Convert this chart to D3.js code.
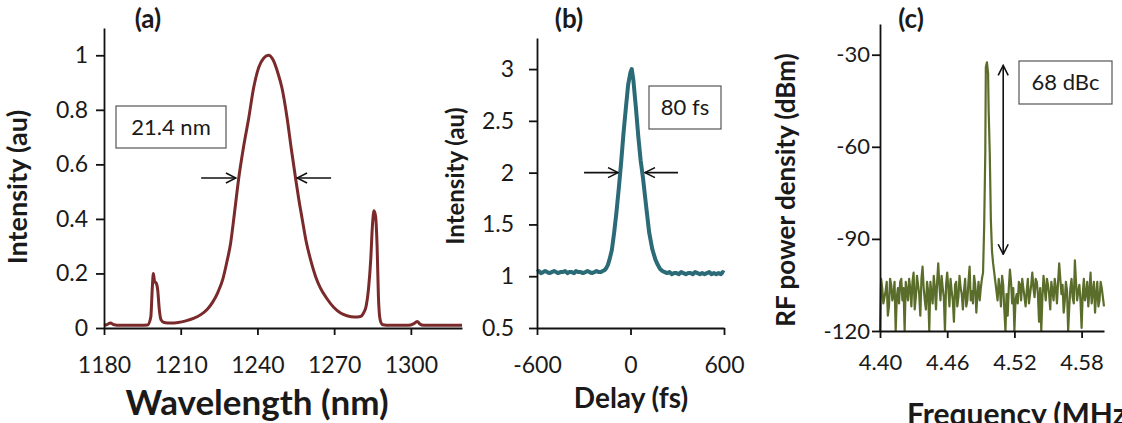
<!DOCTYPE html>
<html>
<head>
<meta charset="utf-8">
<script src="https://cdn.jsdelivr.net/npm/d3@7"></script>
<style>
  body { margin: 0; background: #fff; }
  text { font-family: Lato, "Open Sans", sans-serif; fill: #1a1a1a; }
</style>
</head>
<body>
<div id="chart"></div>
<script>
// ---- data ----
// (a) optical spectrum
var wavelength = [1180, 1181, 1182.5, 1184, 1186, 1190, 1194, 1197, 1198.3, 1198.9, 1199.3, 1199.8, 1200.4, 1201.0, 1201.6, 1202.3, 1203.5, 1206, 1209, 1212, 1215, 1218, 1220.5, 1222.5, 1224.5, 1226.5, 1228, 1229.5, 1231, 1232.7, 1234.5, 1236.6, 1238.5, 1240.5, 1242.5, 1244.4, 1246, 1248, 1249.6, 1251.6, 1253.2, 1254.9, 1256.2, 1257.5, 1259, 1260.8, 1262.7, 1264.7, 1267, 1269.9, 1272.5, 1275, 1278, 1280.3, 1281.5, 1282.5, 1283.5, 1284.3, 1285, 1285.6, 1286.2, 1286.8, 1287.3, 1288, 1289, 1292, 1296, 1299, 1301, 1302.5, 1303.5, 1305, 1310, 1315, 1320]
var spectrum = [0.01, 0.012, 0.018, 0.012, 0.01, 0.01, 0.01, 0.011, 0.04, 0.15, 0.2, 0.17, 0.165, 0.14, 0.07, 0.03, 0.02, 0.018, 0.02, 0.026, 0.035, 0.05, 0.07, 0.095, 0.13, 0.18, 0.24, 0.31, 0.42, 0.55, 0.66, 0.77, 0.88, 0.955, 0.99, 1.0, 0.985, 0.935, 0.88, 0.77, 0.66, 0.55, 0.47, 0.4, 0.32, 0.25, 0.19, 0.145, 0.11, 0.075, 0.055, 0.045, 0.04, 0.042, 0.055, 0.08, 0.15, 0.25, 0.38, 0.43, 0.41, 0.3, 0.12, 0.03, 0.012, 0.01, 0.01, 0.01, 0.015, 0.024, 0.015, 0.01, 0.01, 0.01, 0.01]

// (b) autocorrelation
var delay = [-600, -588, -575, -560, -548, -535, -520, -505, -490, -478, -465, -450, -437, -420, -405, -392, -378, -362, -350, -335, -320, -305, -290, -276, -262, -248, -232, -218, -204, -190, -178, -165, -155, -145, -135, -120, -105, -90, -75, -60, -45, -30, -15, 0, 8, 18, 35, 50, 65, 80, 100, 120, 140, 160, 175, 190, 205, 220, 235, 250, 265, 280, 295, 310, 325, 340, 355, 370, 385, 400, 415, 430, 445, 460, 475, 490, 505, 520, 535, 550, 565, 580, 592, 600]
var autocorr = [1.04, 1.05, 1.03, 1.04, 1.05, 1.04, 1.03, 1.04, 1.05, 1.04, 1.03, 1.04, 1.04, 1.05, 1.03, 1.04, 1.04, 1.03, 1.05, 1.04, 1.04, 1.03, 1.04, 1.05, 1.04, 1.03, 1.04, 1.05, 1.04, 1.04, 1.05, 1.06, 1.08, 1.11, 1.16, 1.25, 1.42, 1.62, 1.85, 2.1, 2.38, 2.62, 2.85, 2.97, 3.0, 2.9, 2.62, 2.35, 2.12, 1.95, 1.68, 1.42, 1.26, 1.16, 1.11, 1.07, 1.05, 1.04, 1.03, 1.04, 1.02, 1.03, 1.03, 1.02, 1.04, 1.03, 1.02, 1.03, 1.03, 1.02, 1.04, 1.03, 1.02, 1.03, 1.02, 1.03, 1.04, 1.02, 1.03, 1.02, 1.03, 1.02, 1.04, 1.03]

// (c) RF spectrum
var frequency = [
  4.400, 4.401, 4.402, 4.403, 4.404, 4.405, 4.406, 4.407, 4.408, 4.409,
  4.410, 4.411, 4.412, 4.413, 4.414, 4.415, 4.416, 4.417, 4.418, 4.419,
  4.420, 4.421, 4.422, 4.423, 4.424, 4.425, 4.426, 4.427, 4.428, 4.429,
  4.430, 4.431, 4.432, 4.433, 4.434, 4.435, 4.436, 4.437, 4.438, 4.439,
  4.440, 4.441, 4.442, 4.443, 4.444, 4.445, 4.446, 4.447, 4.448, 4.449,
  4.450, 4.451, 4.452, 4.453, 4.454, 4.455, 4.456, 4.457, 4.458, 4.459,
  4.460, 4.461, 4.462, 4.463, 4.464, 4.465, 4.466, 4.467, 4.468, 4.469,
  4.470, 4.471, 4.472, 4.473, 4.474, 4.475, 4.476, 4.477, 4.478, 4.479,
  4.480, 4.481, 4.482, 4.483, 4.484, 4.485, 4.486, 4.487, 4.488, 4.489,
  4.490, 4.491, 4.492, 4.493, 4.494, 4.4945, 4.4955, 4.4965, 4.497, 4.498, 4.499,
  4.500, 4.501, 4.502, 4.503, 4.504, 4.505, 4.506, 4.507, 4.508, 4.509,
  4.510, 4.511, 4.512, 4.513, 4.514, 4.515, 4.516, 4.517, 4.518, 4.519,
  4.520, 4.521, 4.522, 4.523, 4.524, 4.525, 4.526, 4.527, 4.528, 4.529,
  4.530, 4.531, 4.532, 4.533, 4.534, 4.535, 4.536, 4.537, 4.538, 4.539,
  4.540, 4.541, 4.542, 4.543, 4.544, 4.545, 4.546, 4.547, 4.548, 4.549,
  4.550, 4.551, 4.552, 4.553, 4.554, 4.555, 4.556, 4.557, 4.558, 4.559,
  4.560, 4.561, 4.562, 4.563, 4.564, 4.565, 4.566, 4.567, 4.568, 4.569,
  4.570, 4.571, 4.572, 4.573, 4.574, 4.575, 4.576, 4.577, 4.578, 4.579,
  4.580, 4.581, 4.582, 4.583, 4.584, 4.585, 4.586, 4.587, 4.588, 4.589,
  4.590, 4.591, 4.592, 4.593, 4.594, 4.595, 4.596, 4.597, 4.598, 4.599,
  4.600]
var rfPower = [
  -120, -103, -106, -111, -109, -107, -104, -115, -112, -103,
  -105, -110, -108, -104, -120, -109, -106, -111, -104, -103,
  -110, -106, -120, -104, -107, -110, -103, -106, -112, -104,
  -101, -113, -109, -102, -105, -108, -115, -103, -99, -106,
  -110, -113, -104, -107, -120, -104, -108, -111, -102, -106,
  -113, -104, -98, -105, -110, -102, -106, -109, -120, -105,
  -101, -106, -112, -103, -107, -110, -117, -105, -104, -112,
  -109, -102, -106, -108, -113, -107, -103, -112, -110, -104,
  -99, -110, -107, -111, -102, -105, -114, -108, -104, -110,
  -106, -103, -101, -86, -62, -34, -32.5, -36, -48, -62, -84,
  -94, -98, -101, -104, -107, -110, -103, -106, -112, -102,
  -105, -113, -120, -108, -115, -106, -100, -104, -111, -106,
  -120, -110, -108, -111, -104, -105, -110, -103, -106, -109,
  -112, -107, -103, -111, -108, -105, -101, -106, -109, -103,
  -104, -108, -117, -106, -120, -109, -102, -106, -110, -103,
  -105, -108, -113, -104, -107, -110, -103, -106, -111, -104,
  -98, -103, -108, -105, -114, -110, -104, -107, -120, -112,
  -106, -103, -109, -111, -97, -104, -110, -107, -105, -110,
  -119, -108, -103, -110, -108, -104, -112, -107, -101, -111,
  -107, -104, -114, -108, -104, -112, -110, -104, -106, -109,
  -112]

// tick values
var ticksA_x = [1180, 1210, 1240, 1270, 1300]
var ticksA_y = [0, 0.2, 0.4, 0.6, 0.8, 1]
var ticksB_x = [-600, 0, 600]
var ticksB_y = [0.5, 1, 1.5, 2, 2.5, 3]
var ticksC_x = [4.40, 4.46, 4.52, 4.58]
var ticksC_y = [-120, -90, -60, -30]

// annotations: label, arrow endpoints in data units
var noteA = {text: "21.4 nm", arrows: [[1218, 1231.6, 0.55], [1268.8, 1255.5, 0.55]]}
var noteB = {text: "80 fs", arrows: [[-298, -80, 2], [305, 93, 2]]}
var noteC = {text: "68 dBc", x: 4.51, y1: -33.5, y2: -95}

var W = 1122, H = 423

// plain hyphen for negatives, like the original
var plain = function(fmt) {
  var f = d3.format(fmt)
  return function(d) { return f(d).replace("\u2212", "-") }
}

var svg = d3.select("#chart").append("svg")
  .attr("width", W)
  .attr("height", H)

var defs = svg.append("defs")
defs.append("marker")
  .attr("id", "head")
  .attr("viewBox", "0 0 12 12")
  .attr("refX", 11).attr("refY", 6)
  .attr("markerWidth", 12).attr("markerHeight", 12)
  .attr("markerUnits", "userSpaceOnUse")
  .attr("orient", "auto-start-reverse")
  .append("path")
  .attr("d", "M1,1 L11,6 L1,11")
  .attr("fill", "none")
  .attr("stroke", "#111")
  .attr("stroke-width", 1.6)

function drawPanel(p) {
  var x = d3.scaleLinear().domain(p.xDomain).range([p.left, p.right])
  var y = d3.scaleLinear().domain(p.yDomain).range([p.bottom, p.top])

  var line = d3.line()
    .x(function(d, i) { return x(p.xs[i]) })
    .y(function(d) { return y(d) })
  if (p.curve) line.curve(p.curve)

  svg.append("path")
    .datum(p.ys)
    .attr("fill", "none")
    .attr("stroke", p.color)
    .attr("stroke-width", p.lineWidth)
    .attr("stroke-linejoin", "round")
    .attr("d", line)

  var xAxis = svg.append("g")
    .attr("transform", "translate(0," + p.bottom + ")")
    .call(d3.axisBottom(x).tickValues(p.xTicks).tickFormat(p.xFmt)
      .tickSize(7).tickSizeOuter(0).tickPadding(p.xPad))
  var yAxis = svg.append("g")
    .attr("transform", "translate(" + p.left + ",0)")
    .call(d3.axisLeft(y).tickValues(p.yTicks).tickFormat(p.yFmt)
      .tickSize(8).tickSizeOuter(0).tickPadding(p.yPad))

  ;[xAxis, yAxis].forEach(function(g) {
    g.attr("font-family", null).attr("font-size", null)
    g.select(".domain").attr("stroke", "#111").attr("stroke-width", 1.8)
    g.selectAll(".tick line").attr("stroke", "#111").attr("stroke-width", 1.8)
    g.selectAll(".tick text").attr("fill", "#222").style("font-size", p.tickFont + "px")
  })

  // panel letter
  svg.append("text")
    .attr("x", p.letterX).attr("y", 28)
    .attr("text-anchor", "middle")
    .style("font-size", "26px").style("font-weight", "bold")
    .text(p.letter)

  // axis titles
  svg.append("text")
    .attr("transform", "translate(" + p.yTitleX + "," + p.yTitleY + ") rotate(-90)")
    .attr("text-anchor", "middle")
    .style("font-size", p.yTitleFont + "px").style("font-weight", "bold")
    .text(p.yTitle)
  svg.append("text")
    .attr("x", p.xTitleX).attr("y", p.xTitleY)
    .attr("text-anchor", p.xTitleAnchor || "middle")
    .style("font-size", p.xTitleFont + "px").style("font-weight", "bold")
    .text(p.xTitle)

  // annotation box
  var box = svg.append("g")
  box.append("rect")
    .attr("x", p.box[0]).attr("y", p.box[1])
    .attr("width", p.box[2]).attr("height", p.box[3])
    .attr("fill", "#fff").attr("stroke", "#555").attr("stroke-width", 1.2)
  box.append("text")
    .attr("x", p.box[0] + p.box[2] / 2).attr("y", p.box[1] + p.box[3] / 2)
    .attr("dy", "0.36em")
    .attr("text-anchor", "middle")
    .style("font-size", "22px")
    .text(p.note.text)

  return {x: x, y: y}
}

var a = drawPanel({
  xs: wavelength, ys: spectrum, color: "#7a2a2a", lineWidth: 3, curve: d3.curveMonotoneX,
  xDomain: [1180, 1320], yDomain: [0, 1.1],
  left: 104, right: 462, top: 28, bottom: 328,
  xTicks: ticksA_x, yTicks: ticksA_y, xFmt: d3.format("d"), yFmt: function(d) { return String(d) },
  xPad: 22, yPad: 8, tickFont: 23,
  letter: "(a)", letterX: 148,
  yTitle: "Intensity (au)", yTitleX: 27, yTitleY: 187, yTitleFont: 27,
  xTitle: "Wavelength (nm)", xTitleX: 257, xTitleY: 415, xTitleFont: 35,
  box: [116, 106, 110, 42], note: noteA
})

var b = drawPanel({
  xs: delay, ys: autocorr, color: "#2b6a77", lineWidth: 4,
  xDomain: [-600, 600], yDomain: [0.5, 3.3],
  left: 537, right: 724, top: 38, bottom: 328,
  xTicks: ticksB_x, yTicks: ticksB_y, xFmt: plain("d"), yFmt: function(d) { return String(d) },
  xPad: 22, yPad: 15, tickFont: 23,
  letter: "(b)", letterX: 569,
  yTitle: "Intensity (au)", yTitleX: 464, yTitleY: 176, yTitleFont: 24,
  xTitle: "Delay (fs)", xTitleX: 631, xTitleY: 408, xTitleFont: 28,
  box: [649, 86, 72, 43], note: noteB
})

var c = drawPanel({
  xs: frequency, ys: rfPower, color: "#5b6d2a", lineWidth: 2.2,
  xDomain: [4.40, 4.60], yDomain: [-120, -20],
  left: 880, right: 1104, top: 24, bottom: 331,
  xTicks: ticksC_x, yTicks: ticksC_y, xFmt: plain(".2f"), yFmt: plain("d"),
  xPad: 16, yPad: 2, tickFont: 22,
  letter: "(c)", letterX: 911,
  yTitle: "RF power density (dBm)", yTitleX: 795, yTitleY: 190, yTitleFont: 26,
  xTitle: "Frequency (MHz)", xTitleX: 907, xTitleY: 425, xTitleFont: 30, xTitleAnchor: "start",
  box: [1019, 61, 93, 43], note: noteC
})

// FWHM arrows
function arrow(x1, y1, x2, y2, both) {
  var l = svg.append("line")
    .attr("x1", x1).attr("y1", y1).attr("x2", x2).attr("y2", y2)
    .attr("stroke", "#111").attr("stroke-width", 1.6)
    .attr("marker-end", "url(#head)")
  if (both) l.attr("marker-start", "url(#head)")
}
noteA.arrows.forEach(function(d) { arrow(a.x(d[0]), a.y(d[2]), a.x(d[1]), a.y(d[2])) })
noteB.arrows.forEach(function(d) { arrow(b.x(d[0]), b.y(d[2]), b.x(d[1]), b.y(d[2])) })
arrow(c.x(noteC.x), c.y(noteC.y2), c.x(noteC.x), c.y(noteC.y1), true)
</script>
</body>
</html>
